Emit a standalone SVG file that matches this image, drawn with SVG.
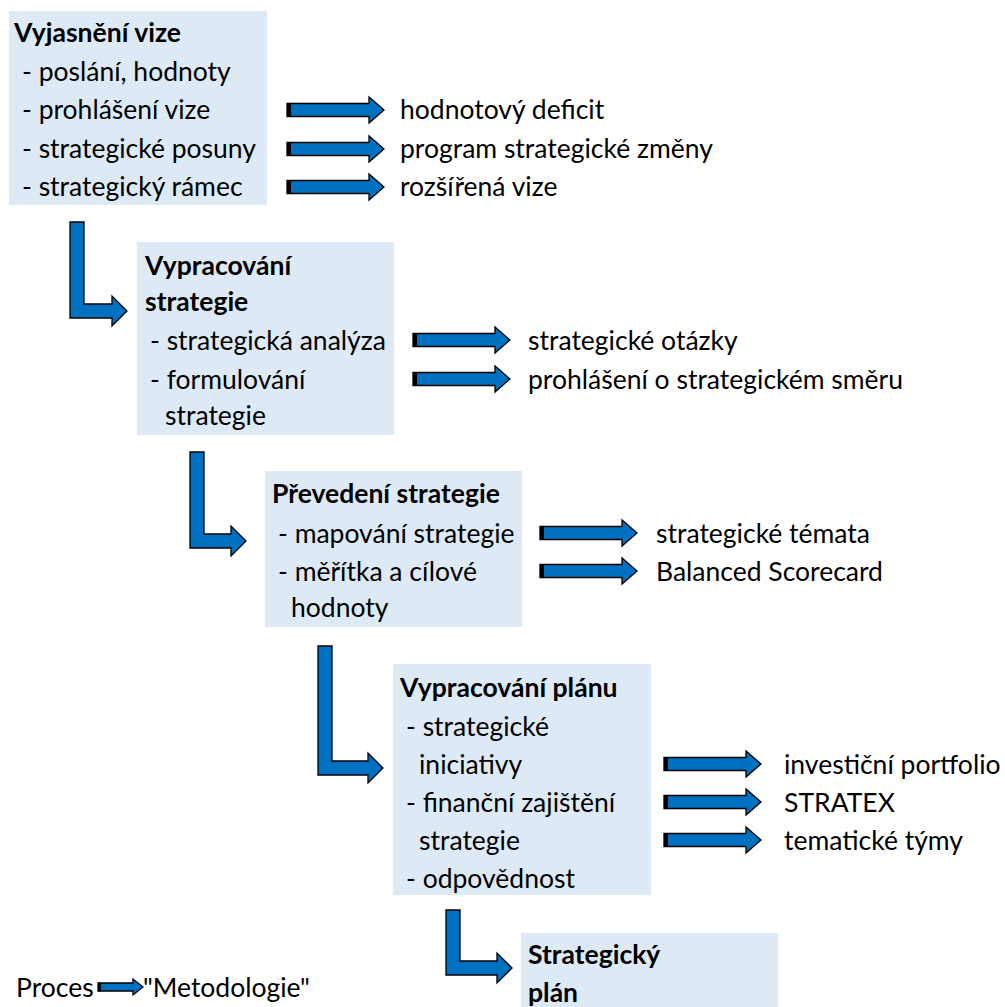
<svg xmlns="http://www.w3.org/2000/svg" width="1005" height="1007" viewBox="0 0 1005 1007">
  <style>
    .box { fill: #DDEAF6; }
    .t { font-family: Lato, "Liberation Sans", sans-serif; font-size: 26.5px; fill: #000; }
    .b { font-weight: bold; }
    .arr { fill: #0070C0; stroke: #000; stroke-width: 1.3; stroke-linejoin: miter; }
    .cap { fill: #000; }
  </style>
  <defs>
    <!-- straight process arrow, origin at left end / centre line -->
    <g id="harrow">
      <path class="arr" d="M0,-6.5 H82 V-13 L97,0 L82,13 V6.5 H0 Z"/>
      <rect class="cap" x="0" y="-7" width="4" height="14"/>
    </g>
  </defs>

  <rect width="1005" height="1007" fill="#fff"/>

  <!-- stage boxes -->
  <g id="vyjasneni-vize">
    <rect class="box" x="9" y="11" width="258" height="194"/>
    <text class="t b" x="14" y="42">Vyjasnění vize</text>
    <text class="t" x="22" y="81">- poslání, hodnoty</text>
    <text class="t" x="22" y="119">- prohlášení vize</text>
    <text class="t" x="22" y="158">- strategické posuny</text>
    <text class="t" x="22" y="196">- strategický rámec</text>
  </g>

  <g id="vypracovani-strategie">
    <rect class="box" x="137" y="242" width="257" height="193"/>
    <text class="t b" x="145" y="275">Vypracování</text>
    <text class="t b" x="145" y="311">strategie</text>
    <text class="t" x="150" y="350">- strategická analýza</text>
    <text class="t" x="150" y="389">- formulování</text>
    <text class="t" x="165" y="425">strategie</text>
  </g>

  <g id="prevedeni-strategie">
    <rect class="box" x="265" y="471" width="257" height="156"/>
    <text class="t b" x="272" y="503">Převedení strategie</text>
    <text class="t" x="278" y="543">- mapování strategie</text>
    <text class="t" x="278" y="581">- měřítka a cílové</text>
    <text class="t" x="291" y="617">hodnoty</text>
  </g>

  <g id="vypracovani-planu">
    <rect class="box" x="393" y="664" width="258" height="231"/>
    <text class="t b" x="400" y="697">Vypracování plánu</text>
    <text class="t" x="406" y="736">- strategické</text>
    <text class="t" x="419" y="774">iniciativy</text>
    <text class="t" x="406" y="812">- finanční zajištění</text>
    <text class="t" x="419" y="850">strategie</text>
    <text class="t" x="406" y="888">- odpovědnost</text>
  </g>

  <g id="strategicky-plan">
    <rect class="box" x="521" y="933" width="257" height="80"/>
    <text class="t b" x="528" y="964">Strategický</text>
    <text class="t b" x="528" y="1002">plán</text>
  </g>

  <!-- outputs of each stage -->
  <g id="vystupy">
    <text class="t" x="400" y="119">hodnotový deficit</text>
    <text class="t" x="400" y="158">program strategické změny</text>
    <text class="t" x="400" y="196">rozšířená vize</text>
    <text class="t" x="528" y="350">strategické otázky</text>
    <text class="t" x="528" y="389">prohlášení o strategickém směru</text>
    <text class="t" x="656" y="543">strategické témata</text>
    <text class="t" x="656" y="581">Balanced Scorecard</text>
    <text class="t" x="784" y="774">investiční portfolio</text>
    <text class="t" x="784" y="812">STRATEX</text>
    <text class="t" x="784" y="850">tematické týmy</text>
  </g>

  <!-- legend -->
  <g id="legenda">
    <text class="t" x="16" y="997">Proces</text>
    <path class="arr" d="M98,983 H133 V979 L143,987 L133,995 V991 H98 Z"/>
    <rect class="cap" x="98" y="982.5" width="3" height="9"/>
    <text class="t" x="143" y="997">"Metodologie"</text>
  </g>

  <!-- connectors -->
  <g id="connectors">
    <use href="#harrow" x="287" y="110"/>
    <use href="#harrow" x="287" y="149"/>
    <use href="#harrow" x="287" y="187"/>
    <use href="#harrow" x="413" y="340"/>
    <use href="#harrow" x="413" y="379"/>
    <use href="#harrow" x="540" y="533"/>
    <use href="#harrow" x="540" y="571"/>
    <use href="#harrow" x="664" y="764"/>
    <use href="#harrow" x="664" y="802"/>
    <use href="#harrow" x="664" y="840"/>

    <!-- bent arrows between stages -->
    <path class="arr" d="M70,222 H84 V304 H112 V296 L127,311 L112,326 V318 H70 Z"/>
    <path class="arr" d="M190,452 H204 V534 H231 V526 L246,541 L231,556 V548 H190 Z"/>
    <path class="arr" d="M318,646 H332 V761 H368 V753 L383,768 L368,783 V775 H318 Z"/>
    <path class="arr" d="M446,910 H460 V961 H497 V953 L512,968 L497,983 V975 H446 Z"/>
  </g>
</svg>
